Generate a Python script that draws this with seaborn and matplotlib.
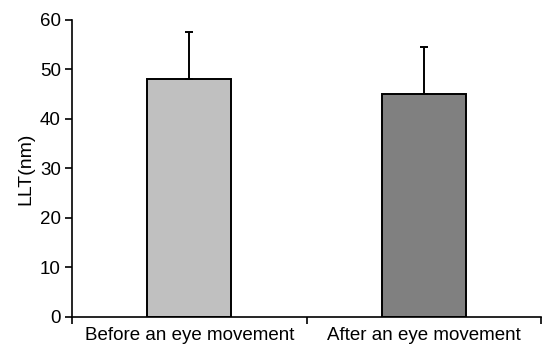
import numpy as np
import pandas as pd
import matplotlib
matplotlib.use("Agg")
import matplotlib.pyplot as plt
import seaborn as sns
from matplotlib.ticker import FixedLocator

conditions = ["Before an eye movement", "After an eye movement"]
llt_mean = [48.0, 45.0]
llt_sd = [9.6, 9.6]
bar_colors = ["#c0c0c0", "#808080"]

sns.set_style("white")
plt.rcParams["font.family"] = ["Liberation Sans", "DejaVu Sans"]
plt.rcParams["text.color"] = "black"
plt.rcParams["axes.labelcolor"] = "black"
plt.rcParams["xtick.color"] = "black"
plt.rcParams["ytick.color"] = "black"

df = pd.DataFrame({"condition": conditions, "llt": llt_mean})

fig = plt.figure(figsize=(5.45, 3.49), dpi=100)
ax = fig.add_axes([0.132, 0.092, 0.861, 0.851])

sns.barplot(data=df, x="condition", y="llt", hue="condition", palette=bar_colors,
            width=0.36, edgecolor="black", linewidth=1.4, legend=False, ax=ax)

# upper error bars only
ax.errorbar(np.arange(len(conditions)), llt_mean, yerr=[np.zeros(len(llt_sd)), llt_sd],
            fmt="none", ecolor="black", elinewidth=1.4, capsize=3, capthick=1.4)

ax.set_xlim(-0.5, len(conditions) - 0.5)
ax.set_ylim(0, 60)
ax.set_yticks(range(0, 61, 10))
ax.set_xlabel("")
ax.set_ylabel("LLT(nm)", fontsize=14, labelpad=4)

ax.xaxis.set_minor_locator(FixedLocator(np.arange(len(conditions) + 1) - 0.5))
ax.tick_params(axis="x", which="major", length=0, labelsize=13.5, pad=7)
ax.tick_params(axis="x", which="minor", direction="out", length=5, width=1.2, bottom=True)
ax.tick_params(axis="y", direction="out", length=5, width=1.2, left=True, labelsize=13.5, pad=3)

for side in ["top", "right"]:
    ax.spines[side].set_visible(False)
for side in ["left", "bottom"]:
    ax.spines[side].set_color("black")
    ax.spines[side].set_linewidth(1.2)

fig.savefig("out.png", dpi=100)
